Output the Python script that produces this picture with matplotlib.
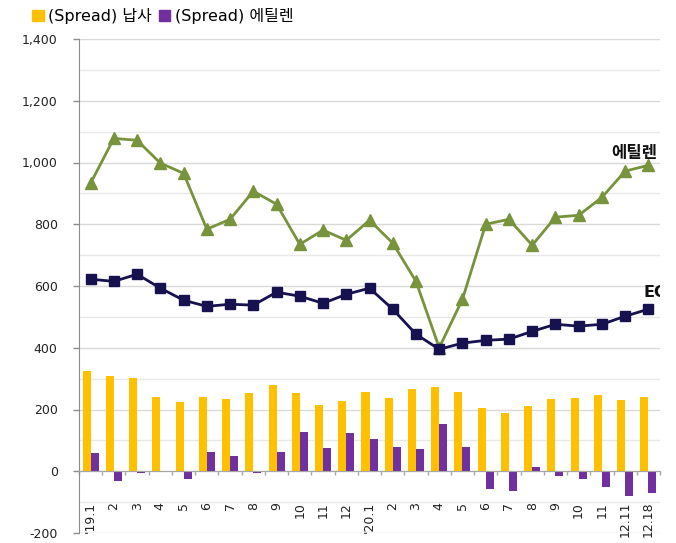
import matplotlib
matplotlib.use("Agg")
import matplotlib.pyplot as plt
import numpy as np
from matplotlib.patches import Patch

plt.rcParams['font.family'] = ['DejaVu Sans', 'Noto Sans CJK KR']

categories = ["'19.1", "2", "3", "4", "5", "6", "7", "8", "9", "10", "11", "12",
              "'20.1", "2", "3", "4", "5", "6", "7", "8", "9", "10", "11", "12.11", "12.18"]
ethylene = [933, 1078, 1072, 998, 965, 784, 816, 907, 865, 735, 781, 748,
            813, 739, 615, 400, 557, 800, 816, 732, 823, 829, 887, 972, 991]
eg = [622, 615, 638, 593, 554, 534, 541, 538, 580, 567, 544, 573,
      593, 525, 444, 395, 415, 424, 428, 453, 476, 470, 476, 502, 525]
naphtha_spread = [324, 307, 303, 241, 224, 241, 233, 255, 279, 255, 214, 226,
                  258, 237, 265, 272, 258, 204, 189, 210, 235, 237, 246, 231, 239]
ethylene_spread = [59, -32, -5, -2, -24, 63, 50, -5, 61, 127, 75, 124,
                   105, 80, 72, 152, 80, -56, -64, 14, -17, -24, -52, -80, -71]

C_NAP = '#FFC000'
C_ETS = '#7030A0'
C_ETH = '#77933C'
C_EG = '#15124F'

fig = plt.figure(figsize=(6.76, 5.43), dpi=100)
ax = fig.add_axes([79/676, 1-533/543, (660-79)/676, (533-39)/543])

ax.spines['bottom'].set_position(('data', 0))
ax.spines['bottom'].set_color('#A6A6A6')
ax.spines['left'].set_color('#8C8C8C')
ax.spines['top'].set_visible(False)
ax.spines['right'].set_visible(False)

x = np.arange(len(categories))
w = 0.345
ax.bar(x - w/2, naphtha_spread, width=w, color=C_NAP, zorder=2)
ax.bar(x + w/2, ethylene_spread, width=w, color=C_ETS, zorder=2)

ax.plot(x, ethylene, color=C_ETH, lw=2.0, marker='^', markersize=8.5, zorder=3)
ax.plot(x, eg, color=C_EG, lw=2.0, marker='s', markersize=6.5, zorder=4)

ax.set_xlim(-0.5, len(categories) - 0.5)
ax.set_ylim(-200, 1400)
ax.set_yticks(np.arange(-200, 1401, 200))
ax.set_yticks(np.arange(-100, 1400, 200), minor=True)
ax.set_yticklabels([f"{v:,}" for v in range(-200, 1401, 200)], fontsize=9, color='#222222')
ax.yaxis.grid(True, which='major', color='#D9D9D9', lw=1)
ax.yaxis.grid(True, which='minor', color='#E8E8E8', lw=1)
ax.set_axisbelow(True)
ax.tick_params(axis='y', which='major', length=4.3, width=1, color='#8C8C8C', pad=11)
ax.tick_params(axis='y', which='minor', length=0)

ax.set_xticks(x)
ax.set_xticks(np.arange(-0.5, len(categories), 1), minor=True)
ax.tick_params(axis='x', which='major', length=0, pad=22)
ax.tick_params(axis='x', which='minor', length=3, width=1, color='#A6A6A6', direction='out')
ax.set_xticklabels(categories, rotation=90, fontsize=9, color='#222222', va='top', ha='center')

ax.text(24.39, 1030, '에틸렌', ha='right', va='center', fontsize=12,
        fontweight='bold', color='#111111', family=['Noto Sans CJK KR', 'DejaVu Sans'])
ax.text(23.78, 580, 'EG', ha='left', va='center', fontsize=11.5,
        fontweight='bold', color='#111111', clip_on=True)

handles = [Patch(color=C_NAP), Patch(color=C_ETS)]
fig.legend(handles, ['(Spread) 납사', '(Spread) 에틸렌'], loc='upper left',
           bbox_to_anchor=(18/676, 1.012), ncol=2, frameon=False, fontsize=11.5,
           handlelength=0.7, handleheight=0.7, handletextpad=0.3, columnspacing=0.4)

fig.savefig('out.png', dpi=100)
